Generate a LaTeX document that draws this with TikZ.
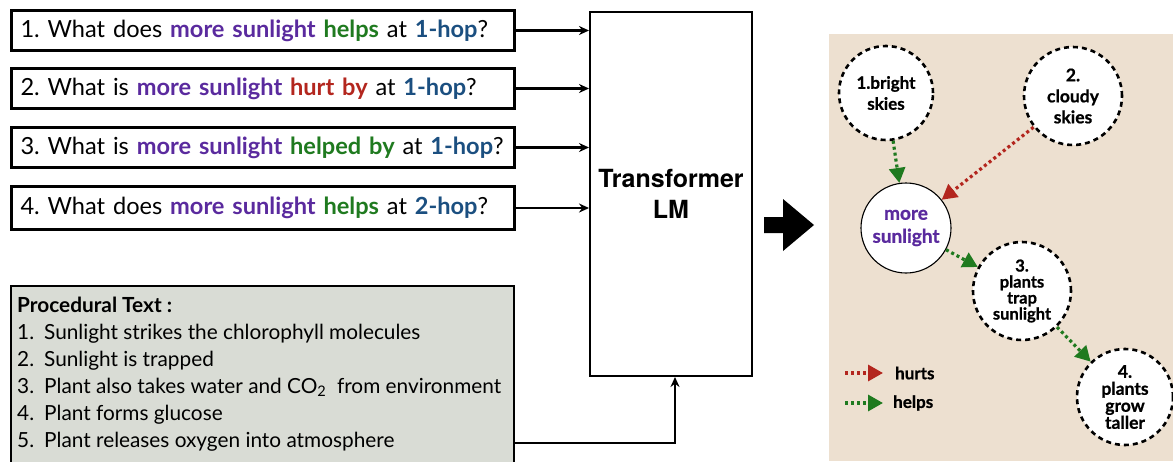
\documentclass[tikz,border=0pt]{standalone}
\usepackage{fontspec}
\setmainfont{Lato}
\newfontfamily\helv{TeX Gyre Heros}
\newfontfamily\heavy{Lato}[BoldFeatures={FakeBold=0.8}]
\usetikzlibrary{arrows.meta}
\definecolor{cpurple}{HTML}{5A2A9E}
\definecolor{cgreen}{HTML}{1F7A1F}
\definecolor{cred}{HTML}{B3261E}
\definecolor{cblue}{HTML}{1B4F80}
\definecolor{cgray}{HTML}{D9DCD5}
\definecolor{cbeige}{HTML}{EDE0D0}
\newcommand\msun{\textcolor{cpurple}{\textbf{more sunlight}}}
\newcommand\grn[1]{\textcolor{cgreen}{\textbf{#1}}}
\newcommand\rdd[1]{\textcolor{cred}{\textbf{#1}}}
\newcommand\blu[1]{\textcolor{cblue}{\textbf{#1}}}
\frenchspacing
\begin{document}
\begin{tikzpicture}[x=1pt,y=-1pt,
  qbox/.style={draw, line width=3pt, minimum width=503pt, minimum height=40pt,
    anchor=north west, inner xsep=9pt, inner ysep=0pt, text width=485pt, align=left,
    font=\fontsize{23.6}{26}\selectfont},
  conn/.style={line width=2.2pt, -{Stealth[length=10pt,width=9pt]}},
  dcirc/.style={circle, draw, line width=2.6pt, dash pattern=on 5pt off 4pt, fill=white,
    inner sep=0pt, align=center},
  hurt/.style={draw=cred, line width=3.2pt, dash pattern=on 3pt off 3pt,
    -{Triangle[length=15pt,width=16pt]}},
  help/.style={draw=cgreen, line width=3.2pt, dash pattern=on 3pt off 3pt,
    -{Triangle[length=15pt,width=16pt]}},
  ctext/.style 2 args={font=\heavy\bfseries\fontsize{#1}{#2}\selectfont}
]
\useasboundingbox (0,0) rectangle (1173,461);

% question boxes
\node[qbox] (q1) at (10,9) {1. What does \msun{} \grn{helps} at \blu{1-hop}?};
\node[qbox] (q2) at (10,67) {2. What is \msun{} \rdd{hurt by} at \blu{1-hop}?};
\node[qbox] (q3) at (10,126) {3. What is \msun{} \grn{helped by} at \blu{1-hop}?};
\node[qbox, minimum height=43pt] (q4) at (10,185) {4. What does \msun{} \grn{helps} at \blu{2-hop}?};

% transformer
\node[draw, line width=2pt, minimum width=162pt, minimum height=364pt, anchor=north west,
  align=center, font=\helv\bfseries\fontsize{25}{31}\selectfont] (tf) at (589,11) {Transformer\\LM};

\draw[conn] (q1.east) -- (q1.east -| tf.west);
\draw[conn] (q2.east) -- (q2.east -| tf.west);
\draw[conn] (q3.east) -- (q3.east -| tf.west);
\draw[conn] (q4.east) -- (q4.east -| tf.west);

% procedural text
\node[draw, line width=2.4pt, fill=cgray, minimum width=503pt, minimum height=180pt,
  anchor=north west, inner sep=0pt] (proc) at (10,285) {};
\node[anchor=north west, inner sep=0pt, font=\fontsize{20.8}{27}\selectfont] (proctext) at (17,293) {%
  \begin{tabular}{@{}l@{\hspace{10pt}}l@{}}
  \multicolumn{2}{@{}l}{\textbf{Procedural Text :}}\\
  1. & Sunlight strikes the chlorophyll molecules\\
  2. & Sunlight is trapped\\
  3. & Plant also takes water and CO\textsubscript{2}\ \ from environment\\
  4. & Plant forms glucose\\
  5. & Plant releases oxygen into atmosphere
  \end{tabular}};
\coordinate (bend) at (675,443);
\draw[conn] (proc.east |- bend) -- (bend) -- (bend |- tf.south);

% big arrow
\fill (764,217) -- (783,217) -- (783,199) -- (814,225) -- (783,251) -- (783,233) -- (764,233) -- cycle;

% right panel
\fill[cbeige] (829,34) rectangle (1173,461);

\node[dcirc, minimum size=94pt, ctext={17}{21}] (c1) at (886,93) {1.bright\\skies};
\node[dcirc, minimum size=98pt, ctext={17.5}{21}] (c2) at (1073,96) {2.\\cloudy\\skies};
\node[circle, draw, line width=1.1pt, fill=white, minimum size=90pt, inner sep=0pt, align=center,
  text=cpurple, font=\heavy\bfseries\fontsize{19}{23}\selectfont] (ms) at (906,228) {more\\sunlight};
\node[dcirc, minimum size=98pt, ctext={16.5}{16}] (c3) at (1022,291) {3.\\plants\\trap\\sunlight};
\node[dcirc, minimum size=96pt, ctext={17.5}{17}] (c4) at (1125,397) {4.\\plants\\grow\\taller};

\draw[help] (c1) -- (ms);
\draw[hurt] (c2) -- (ms);
\draw[help] (ms) -- (c3);
\draw[help] (c3) -- (c4);

% legend
\node[anchor=west, inner sep=0pt, font=\heavy\bfseries\fontsize{17}{19}\selectfont] (lhurts) at (895,373) {hurts};
\node[anchor=west, inner sep=0pt, font=\heavy\bfseries\fontsize{17}{19}\selectfont] (lhelps) at (893,403) {helps};
\coordinate (lh0) at (845,373);
\coordinate (lg0) at (845,403);
\draw[hurt] (lh0) -- ([xshift=-12pt]lhurts.west);
\draw[help] (lg0) -- ([xshift=-10pt]lhelps.west);
\end{tikzpicture}
\end{document}
